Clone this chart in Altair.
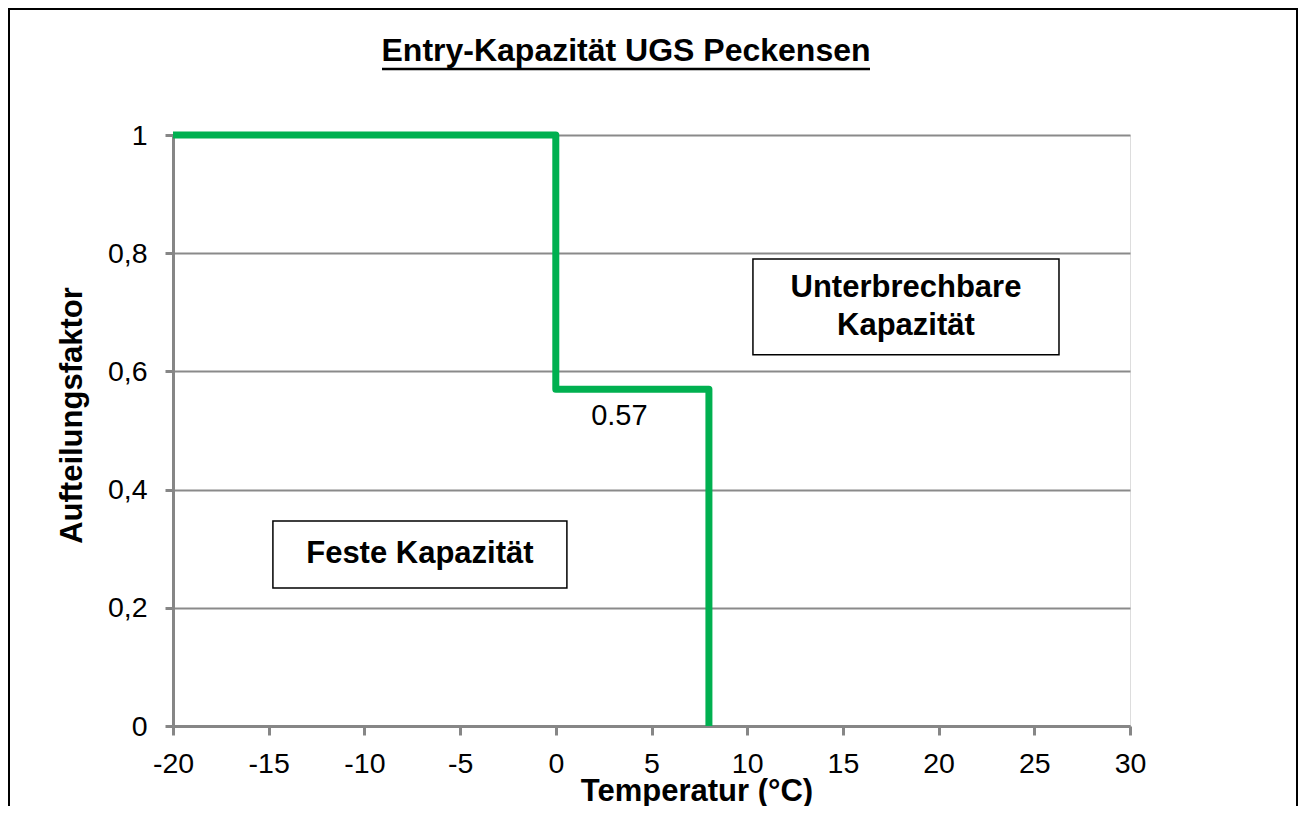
import altair as alt
import pandas as pd

# ---- data ----
title_text = ["Entry-Kapazität UGS Peckensen"]
x_title = "Temperatur (°C)"
y_title = "Aufteilungsfaktor"

line_temp = [-20, 0, 0, 8, 8]
line_factor = [1.0, 1.0, 0.57, 0.57, 0.0]

x_ticks = [-20, -15, -10, -5, 0, 5, 10, 15, 20, 25, 30]
x_tick_labels = ["-20", "-15", "-10", "-5", "0", "5", "10", "15", "20", "25", "30"]
y_ticks = [0, 0.2, 0.4, 0.6, 0.8, 1.0]
y_tick_labels = ["0", "0,2", "0,4", "0,6", "0,8", "1"]

value_label = ["0.57"]
value_label_temp = [4]
value_label_factor = [0.57]

box_texts = ["Unterbrechbare\nKapazität", "Feste Kapazität"]
box_x1 = [10.30, -14.78]
box_x2 = [26.29, 0.58]
box_y1 = [0.628, 0.2335]
box_y2 = [0.790, 0.347]

# ---- styling ----
FONT = "Liberation Sans"
GREEN = "#00B050"
GRAY = "#868686"
W, H = 957, 591
LINE_H = 38

line_df = pd.DataFrame({"t": line_temp, "f": line_factor, "o": list(range(len(line_temp)))})
lab_df = pd.DataFrame({"t": value_label_temp, "f": value_label_factor, "txt": value_label})
nlines = [s.count("\n") + 1 for s in box_texts]
box_df = pd.DataFrame({
    "t": box_x1, "t2": box_x2, "f": box_y1, "f2": box_y2, "txt": box_texts,
    "tc": [(a + b) / 2 for a, b in zip(box_x1, box_x2)],
    "fc": [(a + b) / 2 + (n - 1) * (LINE_H / 2) / H for a, b, n in zip(box_y1, box_y2, nlines)],
})
one = pd.DataFrame({"txt": title_text})


def label_expr(values, labels):
    expr = "''"
    for v, l in reversed(list(zip(values, labels))):
        expr = f"datum.value == {v} ? '{l}' : ({expr})"
    return expr


x_scale = alt.Scale(domain=[-20, 30], nice=False, zero=False)
y_scale = alt.Scale(domain=[0, 1], nice=False, zero=False)

x_axis = alt.Axis(
    values=x_ticks, labelExpr=label_expr(x_ticks, x_tick_labels), grid=False,
    domainColor=GRAY, domainWidth=3, tickColor=GRAY,
    tickWidth=3, tickSize=9, labelFont=FONT, labelFontSize=28.5, labelColor="black",
    labelPadding=14, labelFlush=False, labelOverlap=False,
    title=x_title, titleFont=FONT, titleFontSize=31, titleFontWeight="bold",
    titleColor="black", titleX=523.5, titleY=74, titleBaseline="alphabetic",
    titleAlign="center",
)
y_axis = alt.Axis(
    values=y_ticks, labelExpr=label_expr(y_ticks, y_tick_labels), grid=True,
    gridColor="#8a8a8a", gridWidth=2,
    domainColor=GRAY, domainWidth=3, tickColor=GRAY, tickWidth=3, tickSize=8,
    labelFont=FONT, labelFontSize=28.5, labelColor="black", labelPadding=18,
    labelFlush=False, labelOverlap=False,
    title=y_title, titleFont=FONT, titleFontSize=31, titleFontWeight="bold",
    titleColor="black", titleX=-101, titleY=280, titleAngle=270,
    titleBaseline="middle", titleAlign="center",
)

X = alt.X("t:Q", scale=x_scale, axis=x_axis)
Y = alt.Y("f:Q", scale=y_scale, axis=y_axis)

border = alt.Chart(one).mark_rect(fill="transparent", stroke="black", strokeWidth=2).encode(
    x=alt.value(-164), x2=alt.value(1124), y=alt.value(-126), y2=alt.value(720)
)
title = alt.Chart(one).mark_text(
    font=FONT, fontSize=32, fontWeight="bold", color="black",
    align="center", baseline="alphabetic"
).encode(x=alt.value(453), y=alt.value(-74), text="txt:N")
underline = alt.Chart(one).mark_rule(color="black", strokeWidth=2.5).encode(
    x=alt.value(209), x2=alt.value(697), y=alt.value(-66)
)

line = alt.Chart(line_df).mark_line(
    color=GREEN, strokeWidth=7, strokeJoin="round", strokeCap="butt"
).encode(x=X, y=Y, order="o:Q")

label = alt.Chart(lab_df).mark_text(
    font=FONT, fontSize=29, color="black", dx=-13, dy=27, baseline="middle", align="center"
).encode(x=X, y=Y, text="txt:N")

boxes = alt.Chart(box_df).mark_rect(fill="white", stroke="black", strokeWidth=1.5).encode(
    x=X, x2="t2:Q", y=Y, y2="f2:Q"
)
box_text = alt.Chart(box_df).mark_text(
    font=FONT, fontSize=31, fontWeight="bold", color="black", lineBreak="\n",
    lineHeight=LINE_H, baseline="middle", align="center"
).encode(
    x=alt.X("tc:Q", scale=x_scale, axis=x_axis),
    y=alt.Y("fc:Q", scale=y_scale, axis=y_axis),
    text="txt:N",
)

chart = alt.layer(border, title, underline, line, label, boxes, box_text).properties(
    width=W, height=H,
    autosize=alt.AutoSizeParams(type="none"),
    padding={"left": 165, "top": 127, "right": 168, "bottom": 80},
).configure_view(strokeOpacity=0).configure(background="white")

chart.save("out.html", embed_options={"renderer": "svg", "actions": False})
